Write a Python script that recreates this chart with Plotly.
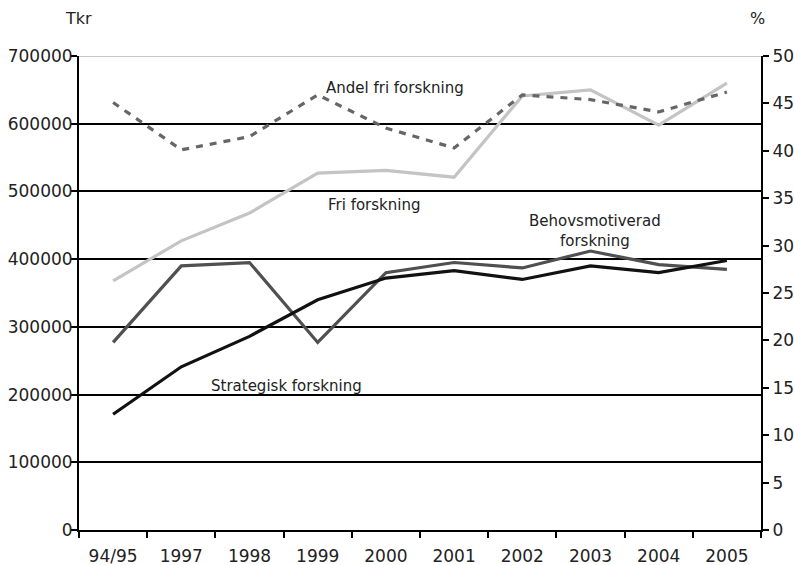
import plotly.graph_objects as go

years = ["94/95", "1997", "1998", "1999", "2000", "2001", "2002", "2003", "2004", "2005"]
strategisk = [171000, 241000, 286000, 340000, 372000, 383000, 370000, 390000, 380000, 398000]
behovsmotiverad = [277000, 390000, 395000, 277000, 380000, 395000, 387000, 412000, 392000, 385000]
fri = [368000, 427000, 468000, 527000, 531000, 521000, 641000, 650000, 598000, 660000]
andel_fri = [45.1, 40.1, 41.5, 45.9, 42.4, 40.3, 45.9, 45.4, 44.1, 46.2]

left_ticks = [0, 100000, 200000, 300000, 400000, 500000, 600000, 700000]
right_ticks = [0, 5, 10, 15, 20, 25, 30, 35, 40, 45, 50]

FONT = "DejaVu Sans"
TXT = "#222222"

W, H = 794, 565
L, R, T, B = 79, 33, 56, 35
PW, PH = W - L - R, H - T - B

fig = go.Figure()
fig.add_trace(go.Scatter(x=years, y=fri, mode="lines", name="Fri forskning",
                         line=dict(color="#c4c4c4", width=3.2)))
fig.add_trace(go.Scatter(x=years, y=behovsmotiverad, mode="lines", name="Behovsmotiverad forskning",
                         line=dict(color="#505050", width=3.2)))
fig.add_trace(go.Scatter(x=years, y=strategisk, mode="lines", name="Strategisk forskning",
                         line=dict(color="#111111", width=3.2)))
fig.add_trace(go.Scatter(x=years, y=andel_fri, mode="lines", name="Andel fri forskning",
                         yaxis="y2", line=dict(color="#666666", width=3.2, dash="7px,7px")))

fig.add_shape(type="line", xref="paper", x0=0, x1=1, yref="y", y0=700000, y1=700000,
              line=dict(color="#c8c8c8", width=2), layer="above")

ann = [
    ("Andel fri forskning", 4.13, 653000),
    ("Fri forskning", 3.83, 480000),
    ("Behovsmotiverad<br>forskning", 7.07, 441600),
    ("Strategisk forskning", 2.54, 212700),
]
for text, xi, yv in ann:
    fig.add_annotation(x=xi, y=yv, xref="x", yref="y", text=text, showarrow=False,
                       font=dict(family=FONT, size=15, color=TXT))

for text, px in (("Tkr", 78), ("%", 757)):
    fig.add_annotation(x=(px - L) / PW, y=1 + (T - 18) / PH, xref="paper", yref="paper",
                       xanchor="center", yanchor="middle", text=text, showarrow=False,
                       font=dict(family=FONT, size=16, color=TXT))

axis_common = dict(showline=True, linecolor="black", linewidth=2, ticks="outside", ticklen=6,
                   tickwidth=2, tickcolor="black", automargin=False,
                   tickfont=dict(family=FONT, size=17, color=TXT))

fig.update_layout(
    width=W, height=H,
    margin=dict(l=L, r=R, t=T, b=B),
    paper_bgcolor="white", plot_bgcolor="white",
    showlegend=False,
    font=dict(family=FONT, size=17, color=TXT),
    xaxis=dict(type="category", range=[-0.5, 9.5], tickson="boundaries", showgrid=False,
               ticklabelstandoff=10, **axis_common),
    yaxis=dict(range=[0, 700000], tickvals=left_ticks, ticktext=[str(v) for v in left_ticks],
               showgrid=True, gridcolor="black", gridwidth=2, zeroline=False,
               ticklabelstandoff=-5, **axis_common),
    yaxis2=dict(range=[0, 50], tickvals=right_ticks, overlaying="y", side="right",
                showgrid=False, zeroline=False, ticklabelstandoff=0, **axis_common),
)

fig.write_html("out.html", config={"displayModeBar": False},
               post_script="document.body.style.margin='0';document.body.style.overflow='hidden';")
